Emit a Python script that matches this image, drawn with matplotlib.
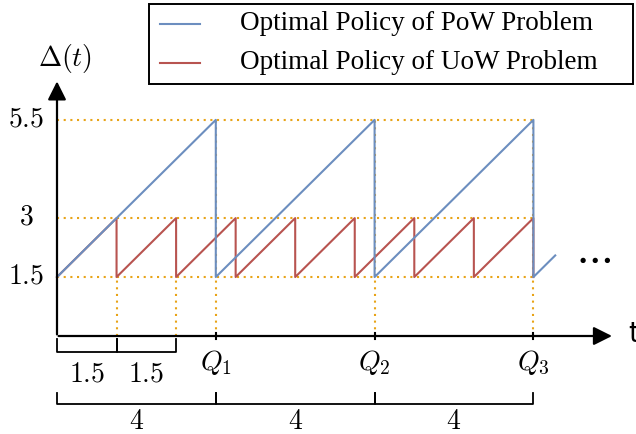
import matplotlib
matplotlib.use("Agg")
import matplotlib.pyplot as plt
from matplotlib.patches import Rectangle

plt.rcParams['mathtext.fontset'] = 'cm'
plt.rcParams['font.family'] = ['Liberation Serif', 'DejaVu Serif']

# sawtooth break points (t, Delta)
pow_t = [0, 4, 4, 8, 8, 12, 12, 12.55]
pow_d = [1.5, 5.5, 1.5, 5.5, 1.5, 5.5, 1.5, 2.05]
uow_t = [0, 1.5, 1.5, 3, 3, 4.5, 4.5, 6, 6, 7.5, 7.5, 9, 9, 10.5, 10.5, 12, 12]
uow_d = [1.5, 3, 1.5, 3, 1.5, 3, 1.5, 3, 1.5, 3, 1.5, 3, 1.5, 3, 1.5, 3, 1.5]

levels = [1.5, 3, 5.5]
level_labels = ['$1.5$', '$3$', '$5.5$']
q_pos = [4, 8, 12]
q_labels = ['$Q_1$', '$Q_2$', '$Q_3$']
small_spans = [(0, 1.5), (1.5, 3)]
small_labels = ['$1.5$', '$1.5$']
big_spans = [(0, 4), (4, 8), (8, 12)]
big_labels = ['$4$', '$4$', '$4$']
series_names = ['Optimal Policy of PoW Problem', 'Optimal Policy of UoW Problem']

blue = '#6C8EBF'
red = '#B85450'
gold = '#E8A317'

W, H = 636, 434
sx = 39.7  # px per unit, x
sy = 39.3  # px per unit, y

fig = plt.figure(figsize=(W / 100, H / 100), dpi=100)
ax = fig.add_axes([0, 0, 1, 1])
ax.set_xlim(-57 / sx, (W - 57) / sx)
ax.set_ylim((336 - H) / sy, 336 / sy)
ax.axis('off')

# dotted guides
dots = (0, (1, 2.2))
for lv in levels:
    ax.plot([0, 12], [lv, lv], color=gold, ls=dots, lw=1.5, zorder=1)
for x in [1.5, 3]:
    ax.plot([x, x], [0, 1.5], color=gold, ls=dots, lw=1.5, zorder=1)
for x in q_pos:
    ax.plot([x, x], [0, 5.5], color=gold, ls=dots, lw=1.5, zorder=1)

ax.plot(uow_t, uow_d, color=red, lw=1.5, zorder=2)
ax.plot(pow_t, pow_d, color=blue, lw=1.5, zorder=3)

# axes with arrows
ax.annotate('', xy=(14.05, 0), xytext=(-0.03, 0),
            arrowprops=dict(arrowstyle='-|>', color='black', lw=1.6, mutation_scale=28))
ax.annotate('', xy=(0, 6.55), xytext=(0, -0.03),
            arrowprops=dict(arrowstyle='-|>', color='black', lw=1.6, mutation_scale=28))
ax.text(0.2, 7.05, r'$\Delta(t)$', fontsize=20, ha='center', va='center')
ax.text(14.4, 0.05, 't', fontsize=20, ha='left', va='center', family='DejaVu Sans')

for lv, lab in zip(levels, level_labels):
    ax.text(-0.78, lv, lab, fontsize=20, ha='center', va='center')

for x, lab in zip(q_pos, q_labels):
    ax.plot([x, x], [-0.07, 0.07], color='black', lw=1.5)
    ax.text(x, -0.68, lab, fontsize=20, ha='center', va='center')

# brackets below the axis
for (a, b), lab in zip(small_spans, small_labels):
    ax.plot([a, a, b, b], [-0.08, -0.41, -0.41, -0.08], color='black', lw=1.3)
    ax.text((a + b) / 2, -1.0, lab, fontsize=20, ha='center', va='center')
for (a, b), lab in zip(big_spans, big_labels):
    ax.plot([a, a, b, b], [-1.45, -1.73, -1.73, -1.45], color='black', lw=1.3)
    ax.text((a + b) / 2, -2.2, lab, fontsize=20, ha='center', va='center')

ax.text((593 - 57) / sx, 1.95, r'$\cdots$', fontsize=30, ha='center', va='center')

# legend box, drawn by hand to get the wide frame
fx = lambda px: px / W
fy = lambda py: 1 - py / H
fig.patches.append(Rectangle((fx(149), fy(84)), fx(633) - fx(149), fy(4) - fy(84),
                             transform=fig.transFigure, fill=False, ec='black', lw=1.4))
for name, col, row in zip(series_names, [blue, red], [24, 63]):
    fig.add_artist(plt.Line2D([fx(160), fx(200)], [fy(row), fy(row)], color=col, lw=1.5,
                              transform=fig.transFigure))
    fig.text(fx(240), fy(row + 6), name, fontsize=19.5, ha='left', va='baseline')

fig.savefig('out.png', dpi=100)
